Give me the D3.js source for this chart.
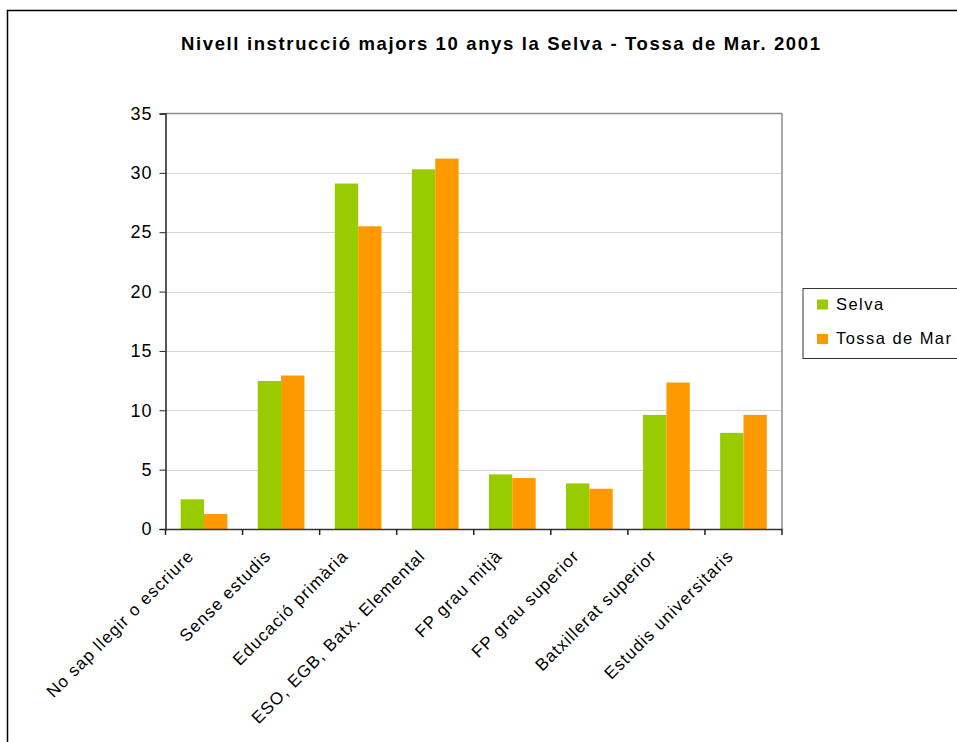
<!DOCTYPE html>
<html><head><meta charset="utf-8">
<script src="https://cdn.jsdelivr.net/npm/d3@7"></script>
<style>body{margin:0;background:#fff;} svg{display:block;font-family:"Liberation Sans",Arial,sans-serif;}</style>
</head><body>
<script>
const categories = ["No sap llegir o escriure","Sense estudis","Educació primària","ESO, EGB, Batx. Elemental","FP grau mitjà","FP grau superior","Batxillerat superior","Estudis universitaris"];
const seriesNames = ["Selva","Tossa de Mar"];
const selva = [2.5, 12.47, 29.1, 30.3, 4.6, 3.84, 9.61, 8.1];
const tossa = [1.26, 12.93, 25.5, 31.2, 4.29, 3.39, 12.34, 9.61];
const yTicks = [0,5,10,15,20,25,30,35];
const colors = ["#99cc00","#ff9900"];
const title = "Nivell instrucció majors 10 anys la Selva - Tossa de Mar. 2001";

const W=957,H=742;
const svg=d3.select("body").append("svg").attr("width",W).attr("height",H);
svg.append("rect").attr("x",7.5).attr("y",10.5).attr("width",1200).attr("height",1200).attr("fill","#fff").attr("stroke","#000").attr("stroke-width",1.5);

const L=165.5,R=782,T=113.5,B=529;
const x=d3.scaleBand().domain(categories).range([L,R]);
const x1=d3.scaleBand().domain(seriesNames).range([0,x.bandwidth()]).paddingOuter(0.65).paddingInner(0);
const y=d3.scaleLinear().domain([0,35]).range([B,T]);

svg.append("text").attr("x",181).attr("y",50).attr("text-anchor","start").attr("font-weight","bold").attr("font-size",18.5)
 .attr("textLength",639).attr("lengthAdjust","spacing").text(title);

// grid
svg.append("g").selectAll("line").data(yTicks.filter(d=>d>0&&d<35)).join("line")
 .attr("x1",L).attr("x2",R).attr("y1",d=>Math.round(y(d))+0.5).attr("y2",d=>Math.round(y(d))+0.5)
 .attr("stroke","#d4d4d4").attr("stroke-width",1);
// frame top/right
svg.append("line").attr("x1",L).attr("x2",R).attr("y1",T).attr("y2",T).attr("stroke","#8c8c8c").attr("stroke-width",1.5);
svg.append("line").attr("x1",R).attr("x2",R).attr("y1",T).attr("y2",B).attr("stroke","#8c8c8c").attr("stroke-width",1.5);

const data=categories.map((c,i)=>({c,vals:[selva[i],tossa[i]]}));
const g=svg.append("g").selectAll("g").data(data).join("g").attr("transform",d=>`translate(${x(d.c)},0)`);
g.selectAll("rect").data(d=>d.vals.map((v,j)=>({v,s:seriesNames[j],j}))).join("rect")
 .attr("x",d=>x1(d.s)).attr("width",x1.bandwidth()).attr("y",d=>y(d.v)).attr("height",d=>B-y(d.v)).attr("fill",d=>colors[d.j]);

// y axis
const ya=svg.append("g").attr("transform",`translate(${L},0)`).call(d3.axisLeft(y).tickValues(yTicks).tickSize(6).tickPadding(7));
ya.select(".domain").attr("stroke","#222").attr("stroke-width",1.5);
ya.selectAll(".tick line").attr("stroke","#222");
ya.selectAll("text").attr("font-size",18).attr("letter-spacing","1").attr("fill","#000").attr("font-family","Liberation Sans, Arial, sans-serif");

// x axis
const xa=svg.append("g").attr("transform",`translate(0,${B})`).call(d3.axisBottom(x).tickSize(0).tickFormat(""));
xa.select(".domain").attr("stroke","#333").attr("stroke-width",1.5);
const bounds=[L,...categories.map(c=>x(c)+x.bandwidth())];
svg.append("g").selectAll("line").data(bounds).join("line")
 .attr("x1",d=>d).attr("x2",d=>d).attr("y1",B).attr("y2",B+6).attr("stroke","#222").attr("stroke-width",1.5);
svg.append("g").selectAll("text").data(categories).join("text")
 .attr("transform",d=>`translate(${x(d)+x.bandwidth()/2-9},${B+28}) rotate(-45)`)
 .attr("text-anchor","end").attr("font-size",17).attr("letter-spacing","1.1").attr("fill","#000").text(d=>d);

// legend
const lg=svg.append("g");
lg.append("rect").attr("x",803).attr("y",288.5).attr("width",170).attr("height",70).attr("fill","#fff").attr("stroke","#333").attr("stroke-width",1);
seriesNames.forEach((s,i)=>{
  lg.append("rect").attr("x",817).attr("y",299.5+i*34.5).attr("width",11).attr("height",10).attr("fill",colors[i]);
  lg.append("text").attr("x",836).attr("y",309.5+i*34).attr("font-size",16.5).attr("letter-spacing","1.45").attr("fill","#000").text(s);
});
</script>
</body></html>
